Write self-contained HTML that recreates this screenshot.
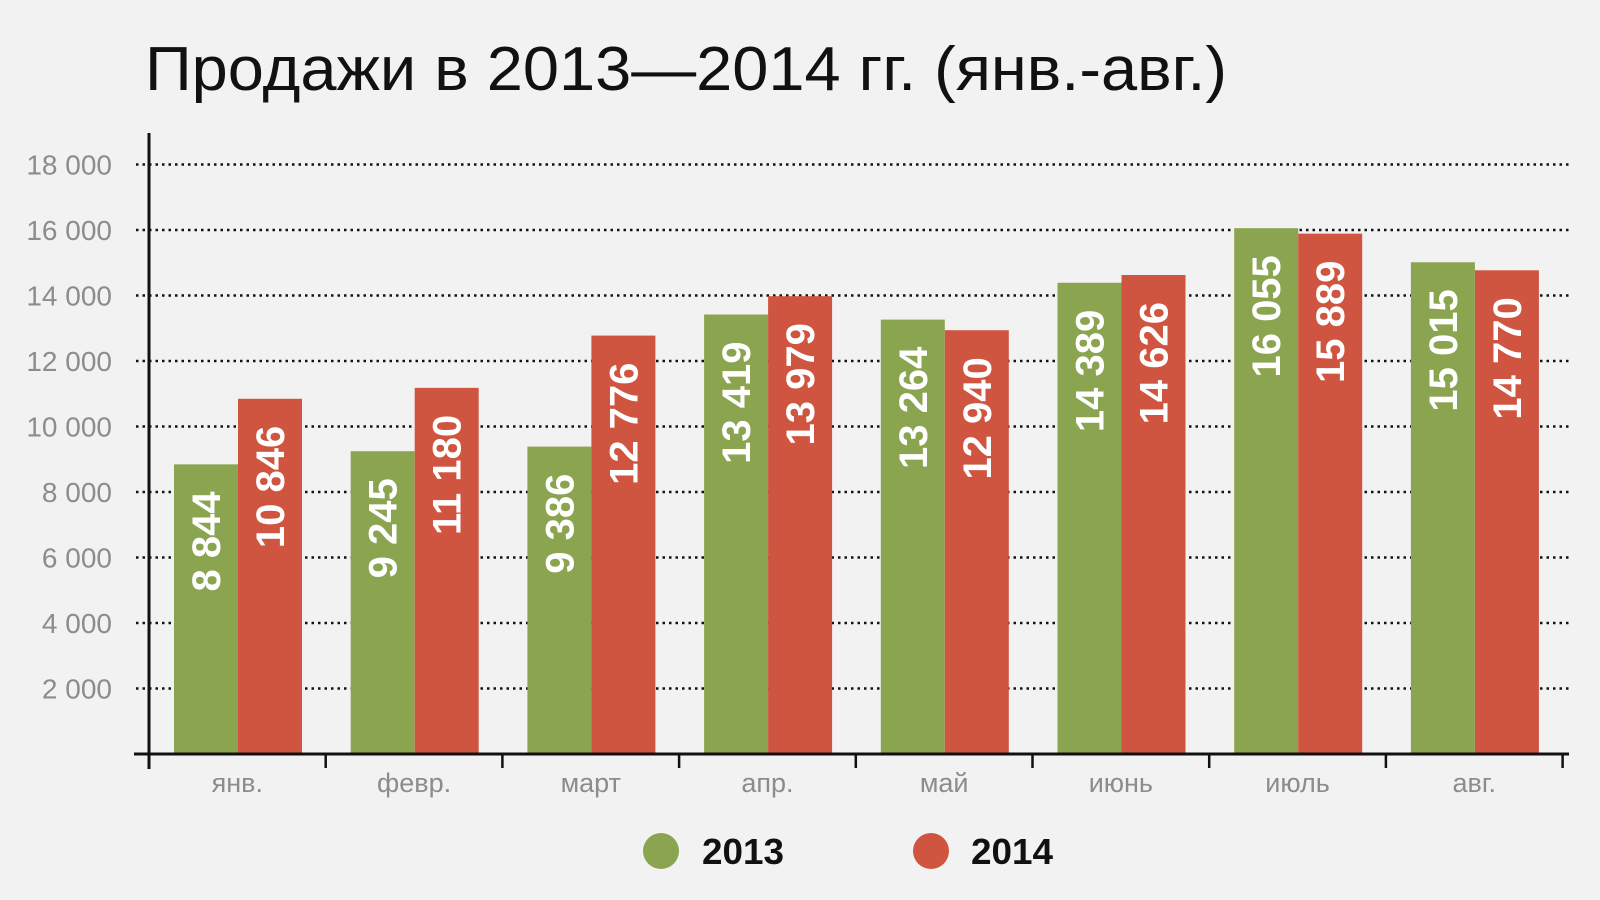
<!DOCTYPE html>
<html><head><meta charset="utf-8"><style>
body{margin:0;background:#f2f2f2;}
svg{display:block;font-family:"Liberation Sans",sans-serif;}
</style></head><body>
<svg id="c" width="1600" height="900" viewBox="0 0 1600 900">
<rect width="1600" height="900" fill="#f2f2f2"/>
<text x="145" y="90" font-size="62" fill="#111" textLength="1082" lengthAdjust="spacingAndGlyphs">Продажи в 2013—2014 гг. (янв.-авг.)</text>
<g id="grid"></g><g id="bars"></g><g id="axes"></g>
<g>
<circle cx="661" cy="851" r="18" fill="#8ba450"/>
<text x="702" y="864" font-size="36" font-weight="bold" fill="#111" textLength="82" lengthAdjust="spacingAndGlyphs">2013</text>
<circle cx="931" cy="851" r="18" fill="#d05540"/>
<text x="971" y="864" font-size="36" font-weight="bold" fill="#111" textLength="82" lengthAdjust="spacingAndGlyphs">2014</text>
</g>
</svg>
<script>
const categories=["янв.","февр.","март","апр.","май","июнь","июль","авг."];
const values2013=[8844,9245,9386,13419,13264,14389,16055,15015];
const values2014=[10846,11180,12776,13979,12940,14626,15889,14770];
const yTicks=[2000,4000,6000,8000,10000,12000,14000,16000,18000];
const NS="http://www.w3.org/2000/svg";
const x0=149,catW=176.7,base=754,pxPer=65.5/2000;
const y=v=>base-v*pxPer;
const xc=i=>x0+i*catW;
const fmt=v=>String(v).replace(/\B(?=(\d{3})+(?!\d))/g," ");
function mk(tag,attrs,parent,txt){const e=document.createElementNS(NS,tag);for(const k in attrs)e.setAttribute(k,attrs[k]);if(txt!==undefined)e.textContent=txt;parent.appendChild(e);return e;}
const grid=document.getElementById('grid'),bars=document.getElementById('bars'),axes=document.getElementById('axes');
yTicks.forEach(t=>{
 const l=mk('line',{x1:136,x2:1572,y1:y(t),y2:y(t),stroke:'#111','stroke-width':2.5,'stroke-dasharray':'2.5 4'},grid);
 
 
 const tx=mk('text',{x:112,y:y(t)+10,'text-anchor':'end','font-size':28,fill:'#8a8c8e'},grid,fmt(t));
 
 
});
[[values2013,'#8ba450',25,'2013'],[values2014,'#d05540',89,'2014']].forEach(([vals,col,off,yr])=>{
 vals.forEach((v,i)=>{
  const bx=xc(i)+off,bw=64,top=y(v);
  const r=mk('rect',{x:bx,y:top,width:bw,height:base-top,fill:col},bars);
  
  
  const cx=bx+bw/2+14,ty=top+27;
  const t=mk('text',{x:0,y:0,transform:`translate(${cx},${ty}) rotate(-90)`,'text-anchor':'end','font-size':40,'font-weight':'bold',fill:'#fff'},bars,fmt(v));
  
  
 });
});
const ax=mk('line',{x1:134,x2:1569,y1:base,y2:base,stroke:'#111','stroke-width':3},axes);


const ay=mk('line',{x1:x0,x2:x0,y1:133,y2:769,stroke:'#111','stroke-width':3},axes);


for(let i=1;i<=categories.length;i++){
 const tk=mk('line',{x1:xc(i),x2:xc(i),y1:base,y2:768,stroke:'#111','stroke-width':2.5},axes);
 
 
}
categories.forEach((c,i)=>{
 const t=mk('text',{x:xc(i)+catW/2,y:792,'text-anchor':'middle','font-size':27,fill:'#8a8c8e'},axes,c);
 
 
});
</script>
</body></html>
